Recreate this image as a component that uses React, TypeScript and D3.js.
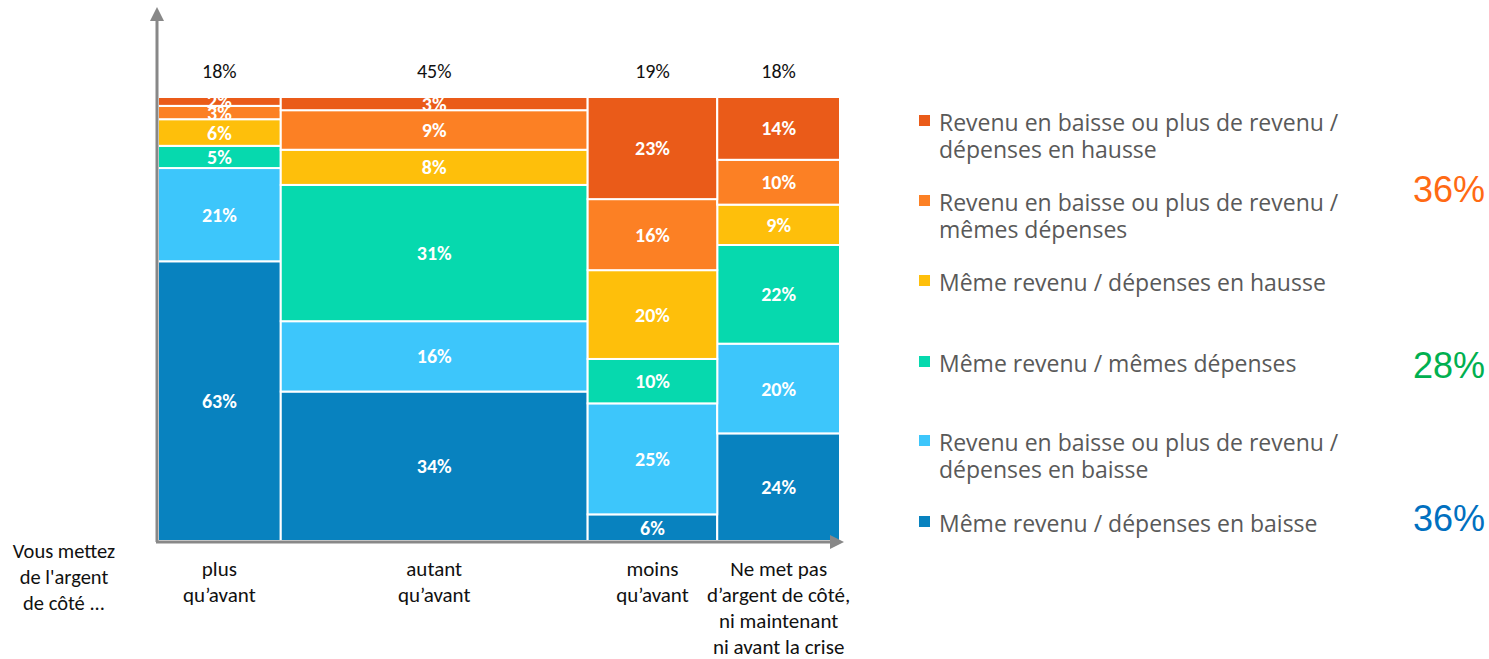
import React from "react";
import * as d3 from "d3";

// Columns (x axis) and their share of respondents
const columns = ["plus|qu’avant", "autant|qu’avant", "moins|qu’avant", "Ne met pas|d’argent de côté,|ni maintenant|ni avant la crise"];
const columnShare = [18, 45, 19, 18];

// Series, bottom to top
const seriesKeys = ["memeBaisse", "baisseBaisse", "memeMeme", "memeHausse", "baisseMeme", "baisseHausse"];
const memeBaisse = [63, 34, 6, 24];
const baisseBaisse = [21, 16, 25, 20];
const memeMeme = [5, 31, 10, 22];
const memeHausse = [6, 8, 20, 9];
const baisseMeme = [3, 9, 16, 10];
const baisseHausse = [2, 3, 23, 14];

// Legend (top to bottom)
const legendLabels = [
  ["Revenu en baisse ou plus de revenu /", "dépenses en hausse"],
  ["Revenu en baisse ou plus de revenu /", "mêmes dépenses"],
  ["Même revenu / dépenses en hausse"],
  ["Même revenu / mêmes dépenses"],
  ["Revenu en baisse ou plus de revenu /", "dépenses en baisse"],
  ["Même revenu / dépenses en baisse"],
];
const legendKeys = ["baisseHausse", "baisseMeme", "memeHausse", "memeMeme", "baisseBaisse", "memeBaisse"];
const totals = ["36%", "28%", "36%"];

const colors: Record<string, string> = {
  memeBaisse: "#0882BF",
  baisseBaisse: "#3DC6FB",
  memeMeme: "#06D9AE",
  memeHausse: "#FEBF0B",
  baisseMeme: "#FC8024",
  baisseHausse: "#EA5B19",
};

const W = 1489;
const H = 659;
const plot = { left: 158, right: 840, top: 97, bottom: 541 };
const gray = "#888888";

export default function App() {
  const table = columns.map((c, i) => ({
    col: c,
    memeBaisse: memeBaisse[i],
    baisseBaisse: baisseBaisse[i],
    memeMeme: memeMeme[i],
    memeHausse: memeHausse[i],
    baisseMeme: baisseMeme[i],
    baisseHausse: baisseHausse[i],
  }));

  const stacked = d3.stack<any>().keys(seriesKeys).offset(d3.stackOffsetExpand)(table);

  const x = d3.scaleLinear().domain([0, d3.sum(columnShare)]).range([plot.left, plot.right]);
  const y = d3.scaleLinear().domain([0, 1]).range([plot.bottom, plot.top]);
  const starts = columnShare.map((_, i) => d3.sum(columnShare.slice(0, i)));

  const font = "Carlito, Calibri, Lato, sans-serif";
  const legendFont = "'Open Sans', sans-serif";

  // legend baselines
  const legendY = [131, 211, 291, 372, 451, 532];

  return (
    <svg width={W} height={H} style={{ position: "absolute", left: 0, top: 0, background: "#fff" }} fontFamily={font}>
      {/* stacked mekko cells */}
      {stacked.map((s) => (
        <g key={s.key}>
          {s.map((d, i) => {
            const x0 = x(starts[i]);
            const x1 = x(starts[i] + columnShare[i]);
            const y0 = y(d[0]);
            const y1 = y(d[1]);
            const raw = (table[i] as any)[s.key];
            return (
              <g key={i}>
                <rect x={x0} y={y1} width={x1 - x0} height={y0 - y1} fill={colors[s.key]} stroke="#fff" strokeWidth={2} />
                <text
                  x={(x0 + x1) / 2}
                  y={(y0 + y1) / 2 + 7}
                  textAnchor="middle"
                  fill="#fff"
                  fontWeight="bold"
                  fontSize={20}
                >
                  {raw}%
                </text>
              </g>
            );
          })}
        </g>
      ))}

      {/* column shares */}
      {columnShare.map((v, i) => (
        <text key={i} x={x(starts[i] + v / 2)} y={78} textAnchor="middle" fontSize={20} fill="#111">
          {v}%
        </text>
      ))}

      {/* axes */}
      <line x1={157} y1={plot.bottom + 1} x2={157} y2={20} stroke={gray} strokeWidth={3} />
      <path d="M150,21 L157,7 L164,21 Z" fill={gray} />
      <line x1={156} y1={plot.bottom + 1} x2={831} y2={plot.bottom + 1} stroke={gray} strokeWidth={3} />
      <path d="M830,535 L844,542 L830,549 Z" fill={gray} />

      {/* column labels */}
      {columns.map((c, i) => (
        <text key={i} x={x(starts[i] + columnShare[i] / 2)} textAnchor="middle" fontSize={21} fill="#111">
          {c.split("|").map((line, j) => (
            <tspan key={j} x={x(starts[i] + columnShare[i] / 2)} y={576 + j * 26}>
              {line}
            </tspan>
          ))}
        </text>
      ))}

      <text textAnchor="middle" fontSize={20.5} fill="#111">
        {["Vous mettez", "de l'argent", "de côté ..."].map((line, j) => (
          <tspan key={j} x={64} y={558 + j * 26}>
            {line}
          </tspan>
        ))}
      </text>

      {/* legend */}
      {legendKeys.map((k, i) => (
        <g key={k}>
          <rect x={919} y={legendY[i] - 16} width={11} height={11} fill={colors[k]} />
          <text fontSize={23} fill="#595959" fontFamily={legendFont}>
            {legendLabels[i].map((line, j) => (
              <tspan key={j} x={939} y={legendY[i] + j * 27}>
                {line}
              </tspan>
            ))}
          </text>
        </g>
      ))}

      {/* group totals */}
      <text x={1485} y={202} textAnchor="end" fontSize={36} fill="#FF6A13" fontFamily="'Liberation Sans', Arial, sans-serif">
        {totals[0]}
      </text>
      <text x={1485} y={378} textAnchor="end" fontSize={36} fill="#00B050" fontFamily="'Liberation Sans', Arial, sans-serif">
        {totals[1]}
      </text>
      <text x={1485} y={531} textAnchor="end" fontSize={36} fill="#0070C0" fontFamily="'Liberation Sans', Arial, sans-serif">
        {totals[2]}
      </text>
    </svg>
  );
}
